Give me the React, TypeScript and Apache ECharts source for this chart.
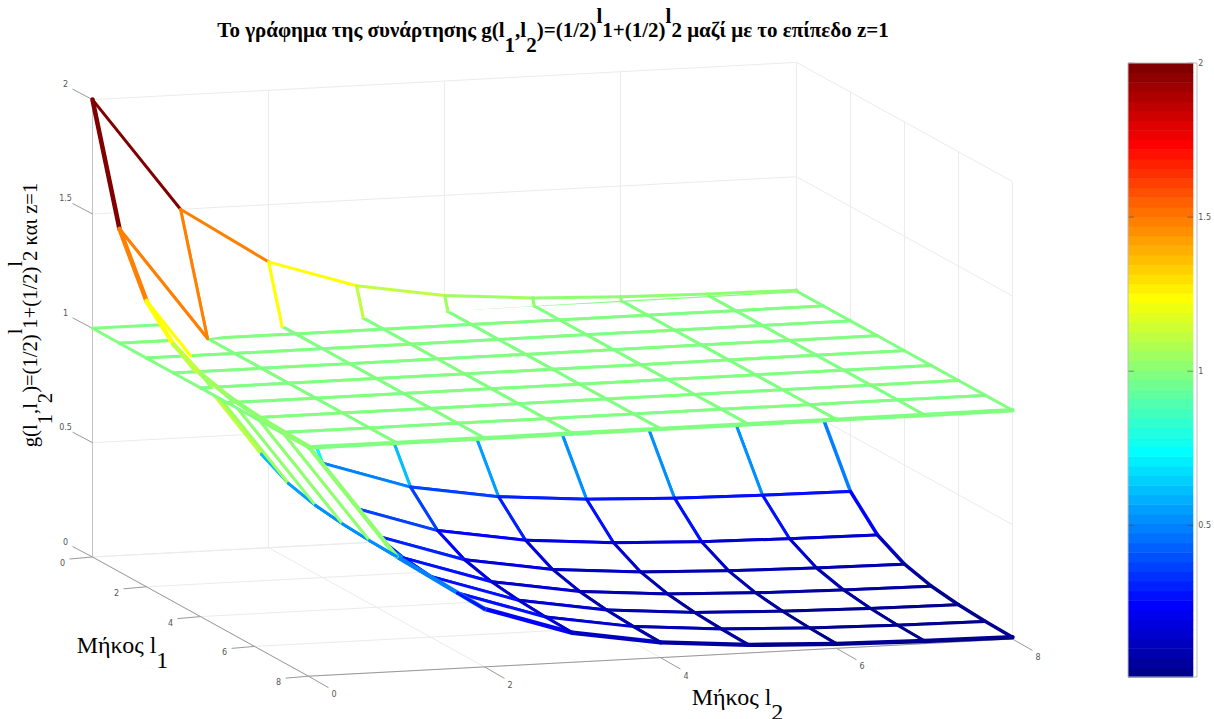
import React, { useEffect, useRef } from "react";
import * as echarts from "echarts";

// ---- data -------------------------------------------------------------
const l1Values = [0, 1, 2, 3, 4, 5, 6, 7, 8];
const l2Values = [0, 1, 2, 3, 4, 5, 6, 7, 8];
const surfaceRow0 = [2, 1.5, 1.25, 1.125, 1.0625, 1.0313, 1.0156, 1.0078, 1.0039];
const surfaceRow1 = [1.5, 1, 0.75, 0.625, 0.5625, 0.5313, 0.5156, 0.5078, 0.5039];
const surfaceRow2 = [1.25, 0.75, 0.5, 0.375, 0.3125, 0.2813, 0.2656, 0.2578, 0.2539];
const surfaceRow3 = [1.125, 0.625, 0.375, 0.25, 0.1875, 0.1563, 0.1406, 0.1328, 0.1289];
const surfaceRow4 = [1.0625, 0.5625, 0.3125, 0.1875, 0.125, 0.0938, 0.0781, 0.0703, 0.0664];
const surfaceRow5 = [1.0313, 0.5313, 0.2813, 0.1563, 0.0938, 0.0625, 0.0469, 0.0391, 0.0352];
const surfaceRow6 = [1.0156, 0.5156, 0.2656, 0.1406, 0.0781, 0.0469, 0.0313, 0.0234, 0.0195];
const surfaceRow7 = [1.0078, 0.5078, 0.2578, 0.1328, 0.0703, 0.0391, 0.0234, 0.0156, 0.0117];
const surfaceRow8 = [1.0039, 0.5039, 0.2539, 0.1289, 0.0664, 0.0352, 0.0195, 0.0117, 0.0078];
const surfaceRows = [surfaceRow0, surfaceRow1, surfaceRow2, surfaceRow3, surfaceRow4, surfaceRow5, surfaceRow6, surfaceRow7, surfaceRow8];
const planeLevel = 1;

const l1Ticks = [0, 2, 4, 6, 8];
const l2Ticks = [0, 2, 4, 6, 8];
const zTicks = [0, 0.5, 1, 1.5, 2];
const zTickLabels = ["0", "0.5", "1", "1.5", "2"];
const barTicks = [0.5, 1, 1.5, 2];
const colorMin = 0.0078;
const colorMax = 2;
const colorLevels = 64;

// ---- view -------------------------------------------------------------
const ORIGIN = [92.5, 557];
const PER_L1 = [27.0, 14.9];
const PER_L2 = [88.0, -4.65];
const PER_Z = 228.7;
const project = (a: number, b: number, z: number) => [
  ORIGIN[0] + PER_L1[0] * a + PER_L2[0] * b,
  ORIGIN[1] + PER_L1[1] * a + PER_L2[1] * b - PER_Z * z,
];

const clamp = (v: number) => Math.max(0, Math.min(1, v));
const jet = Array.from({ length: colorLevels }, (_, k) => {
  const v = (k + 1) / colorLevels;
  const c = (o: number) => Math.round(255 * clamp(1.5 - Math.abs(4 * v - o)));
  return `rgb(${c(3)},${c(2)},${c(1)})`;
});
const colorOf = (z: number) =>
  jet[Math.max(0, Math.min(colorLevels - 1, Math.floor(((z - colorMin) / (colorMax - colorMin)) * colorLevels)))];

const hasPlaneZ = (layer: number, i: number, j: number) => (layer === 1 ? planeLevel : surfaceRows[i][j]);

type P3 = [number, number, number];
const keepSide = (layer: number, z: number) => (layer === 0 ? z <= planeLevel : layer === 2 ? z >= planeLevel : true);
const cross = (a: P3, b: P3): P3 => {
  const t = (planeLevel - a[2]) / (b[2] - a[2]);
  return [a[0] + (b[0] - a[0]) * t, a[1] + (b[1] - a[1]) * t, planeLevel];
};
const clipPoly = (layer: number, pts: P3[]) => {
  if (layer === 1) return pts;
  const out: P3[] = [];
  pts.forEach((p, k) => {
    const q = pts[(k + 1) % pts.length];
    const pIn = keepSide(layer, p[2]);
    const qIn = keepSide(layer, q[2]);
    if (pIn) out.push(p);
    if (pIn !== qIn) out.push(cross(p, q));
  });
  return out;
};
const clipEdge = (layer: number, a: P3, b: P3): [P3, P3] | null => {
  if (layer === 1) return [a, b];
  const aIn = keepSide(layer, a[2]);
  const bIn = keepSide(layer, b[2]);
  if (aIn && bIn) return [a, b];
  if (!aIn && !bIn) return null;
  const m = cross(a, b);
  return aIn ? [a, m] : [m, b];
};

// Hidden-line order: what lies under the plane, then the plane, then what rises above it.
const meshCells: number[][] = [];
[0, 1, 2].forEach((layer) => {
  for (let i = 0; i < l1Values.length - 1; i++)
    for (let j = l2Values.length - 2; j >= 0; j--) meshCells.push([layer, i, j]);
});

const gridSegments: number[][] = [];
l2Ticks.forEach((b) => {
  gridSegments.push([0, b, 0, 8, b, 0], [0, b, 0, 0, b, 2]);
});
l1Ticks.forEach((a) => {
  gridSegments.push([a, 0, 0, a, 8, 0], [a, 8, 0, a, 8, 2]);
});
zTicks.forEach((z) => {
  gridSegments.push([0, 0, z, 0, 8, z], [0, 8, z, 8, 8, z]);
});

export default function App() {
  const ref = useRef<HTMLDivElement>(null);
  useEffect(() => {
    const chart = echarts.init(ref.current!, undefined, { renderer: "svg" });

    const line = (api: any, a: number[], b: number[], stroke: string, lineWidth: number, cap = "butt") => {
      const p = api.coord(a);
      const q = api.coord(b);
      return {
        type: "line",
        silent: true,
        shape: { x1: p[0], y1: p[1], x2: q[0], y2: q[1] },
        style: { stroke, lineWidth, lineCap: cap },
      };
    };

    const renderGrid = (_: any, api: any) => {
      const v = [0, 1, 2, 3, 4, 5].map((d) => api.value(d));
      return line(api, project(v[0], v[1], v[2]), project(v[3], v[4], v[5]), "#ebebeb", 1);
    };

    const renderMesh = (_: any, api: any) => {
      const layer = api.value(0);
      const i = api.value(1);
      const j = api.value(2);
      const vert = (a: number, b: number): P3 => [l1Values[a], l2Values[b], hasPlaneZ(layer, a, b)];
      const v00 = vert(i, j);
      const v10 = vert(i + 1, j);
      const v11 = vert(i + 1, j + 1);
      const v01 = vert(i, j + 1);
      const poly = clipPoly(layer, [v00, v10, v11, v01]);
      const children: any[] = [];
      if (poly.length >= 3) {
        children.push({
          type: "polygon",
          silent: true,
          shape: { points: poly.map((p) => api.coord(project(p[0], p[1], p[2]))) },
          style: { fill: "#ffffff", stroke: "none" },
        });
      }
      const base = 3;
      const surface = layer !== 1;
      const edges: [P3, P3, number, number][] = [
        [v00, v10, v00[2], surface && j === 0 ? 4.6 : base],
        [v00, v01, v00[2], base],
        [v10, v11, v10[2], i + 1 === 8 ? 4.4 : base],
        [v01, v11, v01[2], surface && j + 1 === 8 ? 3.5 : base],
      ];
      edges.forEach(([a, b, z, w]) => {
        const c = clipEdge(layer, a, b);
        if (c) children.push(line(api, project(c[0][0], c[0][1], c[0][2]), project(c[1][0], c[1][1], c[1][2]), colorOf(z), w, "round"));
      });
      return { type: "group", children };
    };

    // ticks and tick labels: [kind, index]
    const tickItems: number[][] = [];
    zTicks.forEach((_, k) => tickItems.push([0, k]));
    l1Ticks.forEach((_, k) => tickItems.push([1, k]));
    l2Ticks.forEach((_, k) => tickItems.push([2, k]));
    const renderTick = (_: any, api: any) => {
      const kind = api.value(0);
      const k = api.value(1);
      const base =
        kind === 0 ? project(0, 0, zTicks[k]) : kind === 1 ? project(l1Ticks[k], 0, 0) : project(8, l2Ticks[k], 0);
      const off = kind === 0 ? [-20, -10.5] : kind === 1 ? [-23, 2] : [20, 11.5];
      const lab = kind === 0 ? [-27, -15] : kind === 1 ? [-30, 6.5] : [25.5, 18.5];
      const text = kind === 0 ? zTickLabels[k] : String(kind === 1 ? l1Ticks[k] : l2Ticks[k]);
      const t = api.coord([base[0] + lab[0], base[1] + lab[1]]);
      return {
        type: "group",
        children: [
          line(api, base, [base[0] + off[0], base[1] + off[1]], "#999999", 1),
          {
            type: "text",
            x: t[0],
            y: t[1],
            style: { text, fill: "#555555", fontFamily: "DejaVu Sans", fontSize: 8, align: "center", verticalAlign: "middle" },
          },
        ],
      };
    };
    const axisEdges = [
      [0, 0, 0, 0, 0, 2, 0],
      [0, 0, 0, 8, 0, 0, 1],
      [8, 0, 0, 8, 8, 0, 1],
    ];
    const renderAxisEdge = (_: any, api: any) => {
      const v = [0, 1, 2, 3, 4, 5].map((d) => api.value(d));
      return line(api, project(v[0], v[1], v[2]), project(v[3], v[4], v[5]), api.value(6) === 0 ? "#c4c4c4" : "#999999", 1);
    };

    const bands = jet.map((_, k) => [k]);
    const renderBand = (_: any, api: any) => {
      const k = api.value(0);
      const step = (colorMax - colorMin) / colorLevels;
      const p = api.coord([0, colorMin + step * (k + 1)]);
      const q = api.coord([1, colorMin + step * k]);
      return {
        type: "rect",
        silent: true,
        shape: { x: p[0], y: p[1], width: q[0] - p[0], height: q[1] - p[1] + 0.5 },
        style: { fill: jet[k], stroke: "none" },
      };
    };
    const barTickItems = barTicks.map((v) => [v]);
    const renderBarTick = (_: any, api: any) => {
      const v = api.value(0);
      const mark = "rgba(70,70,70,0.55)";
      const a = api.coord([0, v]);
      const b = api.coord([1, v]);
      return {
        type: "group",
        children: [
          { type: "line", silent: true, shape: { x1: a[0], y1: a[1], x2: a[0] + 6, y2: a[1] }, style: { stroke: mark, lineWidth: 1 } },
          { type: "line", silent: true, shape: { x1: b[0] - 6, y1: b[1], x2: b[0], y2: b[1] }, style: { stroke: mark, lineWidth: 1 } },
        ],
      };
    };

    const serif = "Liberation Serif";
    const scripted = (size: number, color: string, weight: string, shift: number) => ({
      a: { fontFamily: serif, fontSize: size, fontWeight: weight, color },
      b: { fontFamily: serif, fontSize: size, fontWeight: weight, color, padding: [shift, 0, 0, 0] },
      c: { fontFamily: serif, fontSize: size, fontWeight: weight, color, padding: [0, 0, shift, 0] },
    });

    chart.setOption({
      animation: false,
      backgroundColor: "#ffffff",
      title: {
        left: 548,
        top: 0,
        textAlign: "center",
        text: "{a|Το γράφημα της συνάρτησης g(l}{b|1}{a|,l}{b|2}{a|)=(1/2)}{c|l}{a|1+(1/2)}{c|l}{a|2 μαζί με το επίπεδο z=1}",
        textStyle: { rich: scripted(21, "#000000", "bold", 29) },
      },
      grid: [
        { left: 0, top: 0, width: 1214, height: 719, show: false },
        { left: 1128, top: 63, width: 69, height: 614, show: false },
      ],
      xAxis: [
        { type: "value", gridIndex: 0, min: 0, max: 1214, show: false },
        { type: "value", gridIndex: 1, min: 0, max: 1, show: false },
      ],
      yAxis: [
        { type: "value", gridIndex: 0, min: 0, max: 719, inverse: true, show: false },
        {
          type: "value",
          gridIndex: 1,
          position: "right",
          min: colorMin,
          max: colorMax,
          axisLine: { show: false },
          axisTick: { show: false },
          axisLabel: { show: true, customValues: barTicks, margin: 5, color: "#555555", fontFamily: "DejaVu Sans", fontSize: 8, formatter: (v: number) => String(v) },
          splitLine: { show: false },
        },
      ],
      series: [
        { type: "custom", name: "walls", xAxisIndex: 0, yAxisIndex: 0, z: 1, silent: true, progressive: 0, data: gridSegments, renderItem: renderGrid },
        { type: "custom", name: "axes", xAxisIndex: 0, yAxisIndex: 0, z: 2, silent: true, progressive: 0, data: axisEdges, renderItem: renderAxisEdge },
        { type: "custom", name: "ticks", xAxisIndex: 0, yAxisIndex: 0, z: 2, silent: true, progressive: 0, data: tickItems, renderItem: renderTick },
        { type: "custom", name: "mesh", xAxisIndex: 0, yAxisIndex: 0, z: 3, silent: true, progressive: 0, data: meshCells, renderItem: renderMesh },
        { type: "custom", name: "colorbar", xAxisIndex: 1, yAxisIndex: 1, z: 3, silent: true, progressive: 0, data: bands, renderItem: renderBand },
        { type: "custom", name: "colorbar ticks", xAxisIndex: 1, yAxisIndex: 1, z: 4, silent: true, progressive: 0, data: barTickItems, renderItem: renderBarTick },
      ],
      graphic: [
        {
          type: "rect",
          silent: true,
          z: 20,
          shape: { x: 1128, y: 63, width: 69, height: 614 },
          style: { fill: "none", stroke: "#bdbdbd", lineWidth: 1 },
        },
        {
          type: "text",
          x: 30,
          y: 315,
          rotation: Math.PI / 2,
          silent: true,
          style: {
            text: "{a|g(l}{b|1}{a|,l}{b|2}{a|)=(1/2)}{c|l}{a|1+(1/2)}{c|l}{a|2 και z=1}",
            rich: scripted(20.6, "#333333", "normal", 30),
            align: "center",
            verticalAlign: "middle",
          },
        },
        {
          type: "text",
          x: 122.5,
          y: 645,
          silent: true,
          style: {
            text: "{a|Μήκος l}{b|1}",
            rich: scripted(24, "#333333", "normal", 30),
            align: "center",
            verticalAlign: "middle",
          },
        },
        {
          type: "text",
          x: 737.5,
          y: 697,
          silent: true,
          style: {
            text: "{a|Μήκος l}{b|2}",
            rich: scripted(24, "#333333", "normal", 30),
            align: "center",
            verticalAlign: "middle",
          },
        },
      ],
    });
    return () => chart.dispose();
  }, []);
  return <div ref={ref} style={{ position: "fixed", left: 0, top: 0, width: 1214, height: 719 }} />;
}
